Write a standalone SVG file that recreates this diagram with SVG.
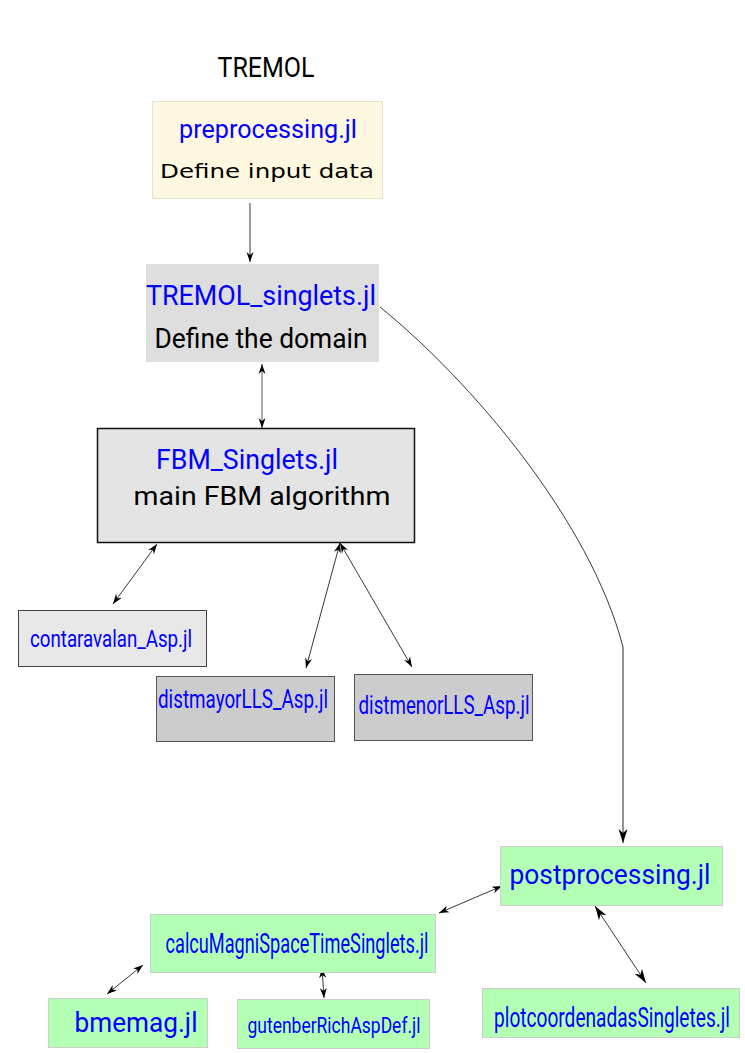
<svg xmlns="http://www.w3.org/2000/svg" width="745" height="1053" viewBox="0 0 745 1053">
<defs>
<marker id="ah" viewBox="0 0 10 10" refX="10" refY="5" markerWidth="10" markerHeight="10" markerUnits="userSpaceOnUse" orient="auto-start-reverse">
<path d="M0,1.5 L10,5 L0,8.5 L3,5 Z" fill="#000"/>
</marker>
<marker id="ahb" viewBox="0 0 14 10" refX="14" refY="5" markerWidth="14" markerHeight="10" markerUnits="userSpaceOnUse" orient="auto-start-reverse">
<path d="M0,0.5 L14,5 L0,9.5 L4,5 Z" fill="#000"/>
</marker>
</defs>
<style>
.fn{font-family:Roboto,"Liberation Sans",sans-serif;fill:#0000ff}
.bl{font-family:Roboto,"Liberation Sans",sans-serif;fill:#000}
.e{fill:none;stroke:#222;stroke-width:0.9}
</style>
<rect width="745" height="1053" fill="#fff"/>
<text x="266" y="77" text-anchor="middle" class="bl" font-size="28" textLength="97" lengthAdjust="spacingAndGlyphs">TREMOL</text>

<g id="connectors">
<line class="e" x1="250" y1="203" x2="250" y2="262" marker-end="url(#ah)"/>
<line x1="262" y1="364" x2="262" y2="428" stroke="#777" stroke-width="1.2" marker-start="url(#ah)" marker-end="url(#ah)"/>
<line class="e" x1="157" y1="544" x2="113" y2="604" marker-start="url(#ah)" marker-end="url(#ah)"/>
<line class="e" x1="340" y1="543" x2="306" y2="668" marker-start="url(#ah)" marker-end="url(#ah)"/>
<line class="e" x1="340" y1="543" x2="412" y2="667" marker-start="url(#ah)" marker-end="url(#ah)"/>
<path class="e" d="M380,307 C470,380 590,520 623,647"/>
<line x1="623" y1="647" x2="623" y2="843" stroke="#888" stroke-width="1.8" marker-end="url(#ahb)"/>
<line class="e" x1="502" y1="886" x2="439" y2="913" marker-start="url(#ah)" marker-end="url(#ah)"/>
<line class="e" x1="595" y1="906" x2="646" y2="983" marker-start="url(#ahb)" marker-end="url(#ahb)"/>
<line class="e" x1="143" y1="965" x2="107" y2="994" marker-start="url(#ah)" marker-end="url(#ah)"/>
<line class="e" x1="322" y1="968" x2="324" y2="998" marker-start="url(#ah)" marker-end="url(#ah)"/>
</g>

<g id="preprocessing">
<rect x="152.5" y="101.5" width="230" height="97" fill="#fff8e0" stroke="#e6e2cc"/>
<text x="268" y="138" text-anchor="middle" class="fn" font-size="26" textLength="178" lengthAdjust="spacingAndGlyphs">preprocessing.jl</text>
<text x="267" y="178" text-anchor="middle" font-family="'DejaVu Sans',Verdana,sans-serif" font-size="20" fill="#000" textLength="214" lengthAdjust="spacingAndGlyphs">Define input data</text>
</g>

<g id="tremol_singlets">
<rect x="146" y="264" width="233" height="98" fill="#dedede"/>
<text x="261" y="305" text-anchor="middle" class="fn" font-size="27" textLength="230" lengthAdjust="spacingAndGlyphs">TREMOL_singlets.jl</text>
<text x="261" y="348" text-anchor="middle" class="bl" font-size="27" textLength="213" lengthAdjust="spacingAndGlyphs">Define the domain</text>
</g>

<g id="fbm">
<rect x="97.5" y="428.5" width="317" height="114" fill="#e4e4e4" stroke="#111" stroke-width="1.5"/>
<text x="247" y="469" text-anchor="middle" class="fn" font-size="27" textLength="182" lengthAdjust="spacingAndGlyphs">FBM_Singlets.jl</text>
<text x="262" y="505" text-anchor="middle" class="bl" font-size="26" textLength="257" lengthAdjust="spacingAndGlyphs">main FBM algorithm</text>
</g>

<g id="contaravalan">
<rect x="18.5" y="610.5" width="188" height="56" fill="#e8e8e8" stroke="#444"/>
<text x="111" y="647" text-anchor="middle" class="fn" font-size="23" textLength="162" lengthAdjust="spacingAndGlyphs">contaravalan_Asp.jl</text>
</g>

<g id="distmayor">
<rect x="156.5" y="676.5" width="178" height="65" fill="#cccccc" stroke="#555"/>
<text x="243" y="708" text-anchor="middle" class="fn" font-size="25" textLength="170" lengthAdjust="spacingAndGlyphs">distmayorLLS_Asp.jl</text>
</g>

<g id="distmenor">
<rect x="354.5" y="674.5" width="178" height="66" fill="#cccccc" stroke="#555"/>
<text x="444" y="714" text-anchor="middle" class="fn" font-size="25" textLength="171" lengthAdjust="spacingAndGlyphs">distmenorLLS_Asp.jl</text>
</g>

<g id="postprocessing">
<rect x="500.5" y="846.5" width="222" height="59" fill="#b3ffb3" stroke="#ccc"/>
<text x="610" y="884" text-anchor="middle" class="fn" font-size="27" textLength="201" lengthAdjust="spacingAndGlyphs">postprocessing.jl</text>
</g>

<g id="calcuMagni">
<rect x="150.5" y="914.5" width="285" height="58" fill="#b3ffb3" stroke="#ccc"/>
<text x="297" y="953" text-anchor="middle" class="fn" font-size="28" textLength="263" lengthAdjust="spacingAndGlyphs">calcuMagniSpaceTimeSinglets.jl</text>
</g>

<g id="bmemag">
<rect x="48.5" y="998.5" width="159" height="49" fill="#b3ffb3" stroke="#ccc"/>
<text x="136" y="1032" text-anchor="middle" class="fn" font-size="27" textLength="123" lengthAdjust="spacingAndGlyphs">bmemag.jl</text>
</g>

<g id="gutenber">
<rect x="237.5" y="999.5" width="192" height="49" fill="#b3ffb3" stroke="#ccc"/>
<text x="334" y="1033" text-anchor="middle" class="fn" font-size="22" textLength="173" lengthAdjust="spacingAndGlyphs">gutenberRichAspDef.jl</text>
</g>

<g id="plotcoordenadas">
<rect x="482.5" y="988.5" width="257" height="49" fill="#b3ffb3" stroke="#ccc"/>
<text transform="translate(612,1027) scale(0.684,1)" x="0" y="0" text-anchor="middle" class="fn" font-size="28" textLength="345" lengthAdjust="spacingAndGlyphs">plotcoordenadasSingletes.jl</text>
</g>
</svg>
